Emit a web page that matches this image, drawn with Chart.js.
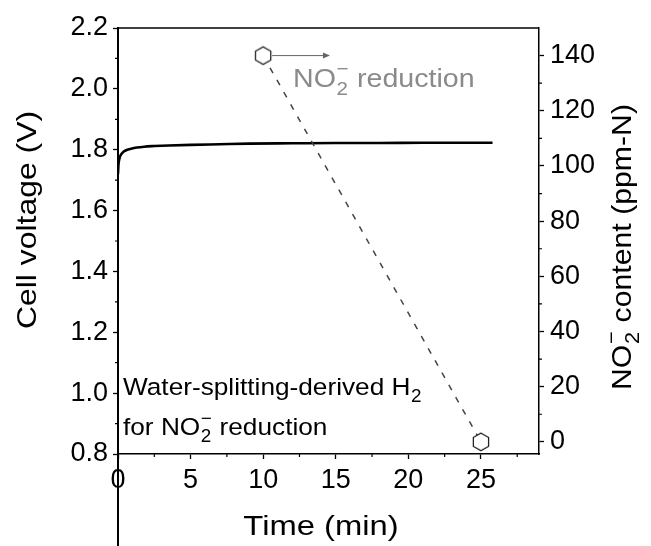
<!DOCTYPE html>
<html><head><meta charset="utf-8">
<script src="https://cdn.jsdelivr.net/npm/chart.js@4.4.1/dist/chart.umd.min.js"></script>
<style>html,body{margin:0;padding:0;background:#fff;overflow:hidden}#wrap{width:651px;height:546px;position:relative}</style>
</head><body><div id="wrap"><canvas id="c" width="651" height="546"></canvas></div>
<script>
// ---- data ----
const timeMin      = [0, 0.03, 0.08, 0.15, 0.25, 0.4, 0.6, 0.9, 1.3, 1.8, 2.5, 3.5, 5, 7, 9, 12, 15, 18, 21, 24, 25.8];
const cellVoltage  = [1.72, 1.750, 1.767, 1.779, 1.787, 1.794, 1.799, 1.803, 1.807, 1.810, 1.812, 1.814, 1.816, 1.818, 1.820, 1.821, 1.822, 1.822, 1.823, 1.823, 1.823];
const no2Time      = [10, 25];
const no2Content   = [140, 0];
const timeTicks    = [0, 5, 10, 15, 20, 25];
const timeMinor    = [2.5, 7.5, 12.5, 17.5, 22.5, 27.5];
const voltageTicks = [0.8, 1.0, 1.2, 1.4, 1.6, 1.8, 2.0, 2.2];
const voltageMinor = [0.9, 1.1, 1.3, 1.5, 1.7, 1.9, 2.1];
const contentTicks = [0, 20, 40, 60, 80, 100, 120, 140];
const contentMinor = [10, 30, 50, 70, 90, 110, 130];
const arrowTime    = [10, 14.6];   // arrow pointing to the right axis, at 140 ppm-N
const arrowLevel   = 140;

const FONT = "'Liberation Sans', Arial, Helvetica, sans-serif";
Chart.defaults.font.family = FONT;
Chart.defaults.color = '#000';

function makeHex(r) {
  const s = Math.ceil(2 * r + 4);
  const c = document.createElement('canvas');
  c.width = s; c.height = s;
  const g = c.getContext('2d');
  g.beginPath();
  for (let k = 0; k < 6; k++) {
    const a = -Math.PI / 2 + k * Math.PI / 3;
    const px = s / 2 + r * Math.cos(a), py = s / 2 + r * Math.sin(a);
    if (k) g.lineTo(px, py); else g.moveTo(px, py);
  }
  g.closePath();
  g.fillStyle = '#fff'; g.fill();
  g.strokeStyle = '#111'; g.lineWidth = 1.2; g.stroke();
  return c;
}
const hexImg = makeHex(8.8);

// rich text: parts = strings or {sub, sup}
function richWidth(ctx, parts, size) {
  let w = 0;
  for (const p of parts) {
    if (typeof p === 'string') { ctx.font = size + 'px ' + FONT; w += ctx.measureText(p).width; }
    else { ctx.font = (size * 0.72) + 'px ' + FONT;
      w += Math.max(ctx.measureText(p.sub || '').width, ctx.measureText(p.sup || '').width) + 1; }
  }
  return w;
}
function drawRich(ctx, parts, x, y, size, color) {
  ctx.fillStyle = color; ctx.textBaseline = 'alphabetic'; ctx.textAlign = 'left';
  let cx = x;
  for (const p of parts) {
    if (typeof p === 'string') {
      ctx.font = size + 'px ' + FONT; ctx.fillText(p, cx, y); cx += ctx.measureText(p).width;
    } else {
      ctx.font = (size * 0.72) + 'px ' + FONT;
      const w = Math.max(ctx.measureText(p.sub || '').width, ctx.measureText(p.sup || '').width);
      if (p.sub) ctx.fillText(p.sub, cx + 0.5, y + size * 0.3);
      if (p.sup) ctx.fillText(p.sup, cx + 0.5, y - size * 0.45);
      cx += w + 1;
    }
  }
  return cx - x;
}
// text stretched along its own direction; (x,y) = baseline point, align 'left' or 'center'
function drawText(ctx, parts, x, y, size, color, stretch, align, angle) {
  ctx.save();
  ctx.translate(x, y);
  if (angle) ctx.rotate(angle);
  ctx.scale(stretch, 1);
  const w = richWidth(ctx, parts, size);
  drawRich(ctx, parts, align === 'center' ? -w / 2 : 0, 0, size, color);
  ctx.restore();
}

const decor = {
  id: 'decor',
  afterDraw(chart) {
    const ctx = chart.ctx, a = chart.chartArea;
    const sx = chart.scales.x, sy = chart.scales.y, sy2 = chart.scales.y2;
    ctx.save();
    // top frame
    ctx.strokeStyle = '#000'; ctx.lineWidth = 1.5;
    ctx.beginPath(); ctx.moveTo(a.left, a.top); ctx.lineTo(a.right, a.top); ctx.stroke();
    // left axis line continuing below the plot
    const x0 = sx.getPixelForValue(0);
    ctx.lineWidth = 2;
    ctx.beginPath(); ctx.moveTo(x0, a.bottom); ctx.lineTo(x0, chart.height); ctx.stroke();
    // minor ticks
    ctx.lineWidth = 1.2;
    ctx.beginPath();
    for (const v of voltageMinor) { const p = sy.getPixelForValue(v); ctx.moveTo(a.left, p); ctx.lineTo(a.left - 3, p); }
    for (const v of contentMinor) { const p = sy2.getPixelForValue(v); ctx.moveTo(a.right, p); ctx.lineTo(a.right + 3, p); }
    for (const v of timeMinor) { const p = sx.getPixelForValue(v); ctx.moveTo(p, a.bottom); ctx.lineTo(p, a.bottom + 3); }
    ctx.stroke();
    // arrow toward right axis
    const ay = sy2.getPixelForValue(arrowLevel);
    const ax1 = sx.getPixelForValue(arrowTime[0]) + 9, ax2 = sx.getPixelForValue(arrowTime[1]);
    ctx.strokeStyle = '#666'; ctx.fillStyle = '#666'; ctx.lineWidth = 1;
    ctx.beginPath(); ctx.moveTo(ax1, ay); ctx.lineTo(ax2 - 4, ay); ctx.stroke();
    ctx.beginPath(); ctx.moveTo(ax2, ay); ctx.lineTo(ax2 - 7, ay - 3); ctx.lineTo(ax2 - 7, ay + 3); ctx.closePath(); ctx.fill();
    // annotations
    const no2 = ['NO', {sub: '2', sup: '\u2212'}];
    drawText(ctx, [...no2, ' reduction'], a.left + 175, a.top + 59, 26, '#8a8a8a', 1.1, 'left');
    drawText(ctx, ['Water-splitting-derived H', {sub: '2'}], a.left + 5, a.bottom - 59, 24.5, '#000', 1.07, 'left');
    drawText(ctx, ['for ', ...no2, ' reduction'], a.left + 5, a.bottom - 19, 24.5, '#000', 1.07, 'left');
    // axis titles
    drawText(ctx, ['Time (min)'], 321, 535, 28, '#000', 1.17, 'center');
    drawText(ctx, ['Cell voltage (V)'], 36, 220, 28, '#000', 1.14, 'center', -Math.PI / 2);
    drawText(ctx, [...no2, ' content (ppm-N)'], 631, 247, 28, '#000', 1.08, 'center', -Math.PI / 2);
    ctx.restore();
  }
};

const tickGrid = { display: true, drawOnChartArea: false, drawTicks: true, tickLength: 5, color: '#000', tickColor: '#000', tickWidth: 1.3 };

new Chart(document.getElementById('c'), {
  type: 'scatter',
  data: {
    datasets: [
      {
        label: 'Cell voltage (V)',
        data: timeMin.map((t, i) => ({ x: t, y: cellVoltage[i] })),
        yAxisID: 'y', showLine: true, borderColor: '#000', borderWidth: 2.6,
        pointRadius: 0, cubicInterpolationMode: 'monotone', order: 2
      },
      {
        label: 'NO2- content (ppm-N)',
        data: no2Time.map((t, i) => ({ x: t, y: no2Content[i] })),
        yAxisID: 'y2', showLine: true, borderColor: '#444', borderWidth: 1.5, borderDash: [6, 8],
        pointStyle: hexImg, pointRadius: 9, order: 1
      }
    ]
  },
  options: {
    responsive: false, animation: false,
    layout: { padding: { top: 28, left: 0, right: 0, bottom: 0 } },
    plugins: { legend: { display: false }, tooltip: { enabled: false } },
    scales: {
      x: {
        type: 'linear', position: 'bottom', min: 0, max: 29,
        afterBuildTicks: s => { s.ticks = timeTicks.map(v => ({ value: v })); },
        afterFit: s => { s.height = 92; },
        ticks: { font: { size: 27 }, padding: 5, maxRotation: 0, color: '#000', callback: v => String(v) },
        grid: tickGrid,
        border: { display: true, color: '#000', width: 1.5 },
        title: { display: false, text: 'Time (min)' }
      },
      y: {
        type: 'linear', position: 'left', min: 0.8, max: 2.2,
        afterBuildTicks: s => { s.ticks = voltageTicks.map(v => ({ value: v })); },
        afterFit: s => { s.width = 118; },
        ticks: { font: { size: 27 }, padding: 5, color: '#000', callback: v => Number(v).toFixed(1) },
        grid: tickGrid,
        border: { display: true, color: '#000', width: 2 },
        title: { display: false, text: 'Cell voltage (V)' }
      },
      y2: {
        type: 'linear', position: 'right', min: -4.4, max: 150,
        afterBuildTicks: s => { s.ticks = contentTicks.map(v => ({ value: v })); },
        afterFit: s => { s.width = 112; },
        ticks: { font: { size: 27 }, padding: 6, color: '#000', callback: v => String(v) },
        grid: tickGrid,
        border: { display: true, color: '#000', width: 1.5 },
        title: { display: false, text: 'NO2- content (ppm-N)' }
      }
    }
  },
  plugins: [decor]
});
</script>
</body></html>
